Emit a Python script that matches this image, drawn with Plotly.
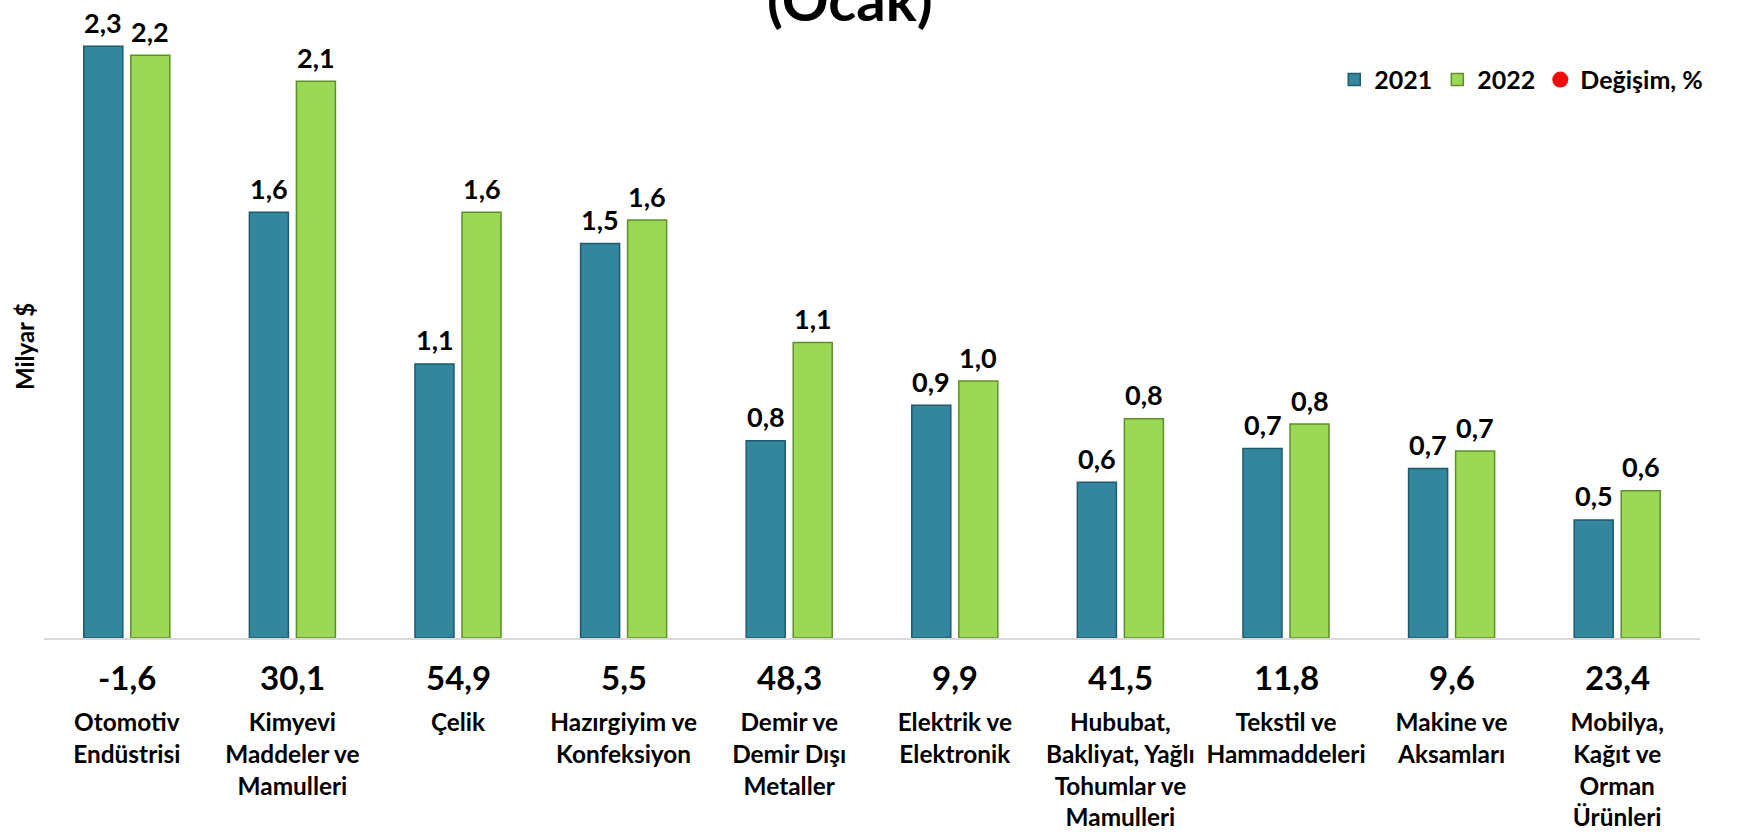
import plotly.graph_objects as go

# ───────────────────────── DATA ─────────────────────────

categories = [
    "Otomotiv<br>Endüstrisi",
    "Kimyevi<br>Maddeler ve<br>Mamulleri",
    "Çelik",
    "Hazırgiyim ve<br>Konfeksiyon",
    "Demir ve<br>Demir Dışı<br>Metaller",
    "Elektrik ve<br>Elektronik",
    "Hububat,<br>Bakliyat, Yağlı<br>Tohumlar ve<br>Mamulleri",
    "Tekstil ve<br>Hammaddeleri",
    "Makine ve<br>Aksamları",
    "Mobilya,<br>Kağıt ve<br>Orman<br>Ürünleri",
]
keys = [f"c{i}" for i in range(len(categories))]

exports_2021 = [2.28, 1.64, 1.056, 1.52, 0.76, 0.897, 0.60, 0.73, 0.653, 0.455]
exports_2022 = [2.245, 2.145, 1.64, 1.61, 1.138, 0.99, 0.845, 0.824, 0.72, 0.567]
labels_2021 = ["2,3", "1,6", "1,1", "1,5", "0,8", "0,9", "0,6", "0,7", "0,7", "0,5"]
labels_2022 = ["2,2", "2,1", "1,6", "1,6", "1,1", "1,0", "0,8", "0,8", "0,7", "0,6"]
change_pct = ["-1,6", "30,1", "54,9", "5,5", "48,3", "9,9", "41,5", "11,8", "9,6", "23,4"]

FONT = "Lato"
C2021 = "#33869E"
C2022 = "#9BD856"

# ───────────────────────── FIGURE ─────────────────────────

fig = go.Figure()

fig.add_trace(go.Bar(
    x=keys, y=exports_2021, name="2021",
    marker=dict(color=C2021, line=dict(color="#1E5B6C", width=1.5)),
))

fig.add_trace(go.Bar(
    x=keys, y=exports_2022, name="2022",
    marker=dict(color=C2022, line=dict(color="#5F8F2A", width=1.5)),
))

# legend entry for the change series
fig.add_trace(go.Scatter(
    x=[None], y=[None], mode="markers", name="Değişim, %",
    marker=dict(color="#F20D0D", size=18, symbol="circle"),
))

# value labels above the bars
label_font = dict(family=FONT, size=27, color="black", weight="bold")
for k, v, t in zip(keys, exports_2021, labels_2021):
    fig.add_annotation(x=k, y=v, xshift=-23.5, yshift=24, yanchor="middle",
                       text=t, showarrow=False, font=label_font)
for k, v, t in zip(keys, exports_2022, labels_2022):
    fig.add_annotation(x=k, y=v, xshift=23.5, yshift=24, yanchor="middle",
                       text=t, showarrow=False, font=label_font)

# change row under the axis
for k, p in zip(keys, change_pct):
    fig.add_annotation(
        x=k, y=0, xref="x", yref="y", yshift=-39, yanchor="middle",
        text=p, showarrow=False,
        font=dict(family=FONT, size=33, color="black", weight="bold"),
    )

# title (cut at the top edge, as in the source)
fig.add_annotation(
    x=0.487, y=1, xref="paper", yref="paper", yanchor="middle", yshift=17,
    text="(Ocak)", showarrow=False,
    font=dict(family=FONT, size=58, color="black", weight="bold"),
)

# y title
fig.add_annotation(
    x=0, y=0.467, xref="paper", yref="paper", xshift=-20, xanchor="center",
    text="Milyar $", textangle=-90, showarrow=False,
    font=dict(family=FONT, size=24, color="black", weight="bold"),
)

fig.update_layout(
    width=1751, height=832,
    paper_bgcolor="white", plot_bgcolor="white",
    margin=dict(l=44, r=51, t=15, b=194),
    barmode="group", bargap=0.432, bargroupgap=0.17,
    showlegend=True,
    legend=dict(
        orientation="h", x=1.005, xanchor="right", y=0.896, yanchor="middle",
        font=dict(family=FONT, size=25, color="black", weight="bold"),
        bgcolor="rgba(0,0,0,0)", itemwidth=30, tracegroupgap=0,
    ),
    xaxis=dict(
        tickmode="array", tickvals=keys, ticktext=categories,
        showline=True, linecolor="#D9D9D9", linewidth=2,
        showgrid=False, ticks="", ticklabelstandoff=62, automargin=False,
        tickfont=dict(family=FONT, size=24.4, color="black", weight="bold"),
    ),
    yaxis=dict(
        range=[0, 2.4], visible=False, showgrid=False, zeroline=False,
        automargin=False,
    ),
)

# page has a default body margin; drop it so the chart sits at (0, 0)
fig.write_html("out.html", config={"displayModeBar": False},
               post_script="document.body.style.margin='0';")
